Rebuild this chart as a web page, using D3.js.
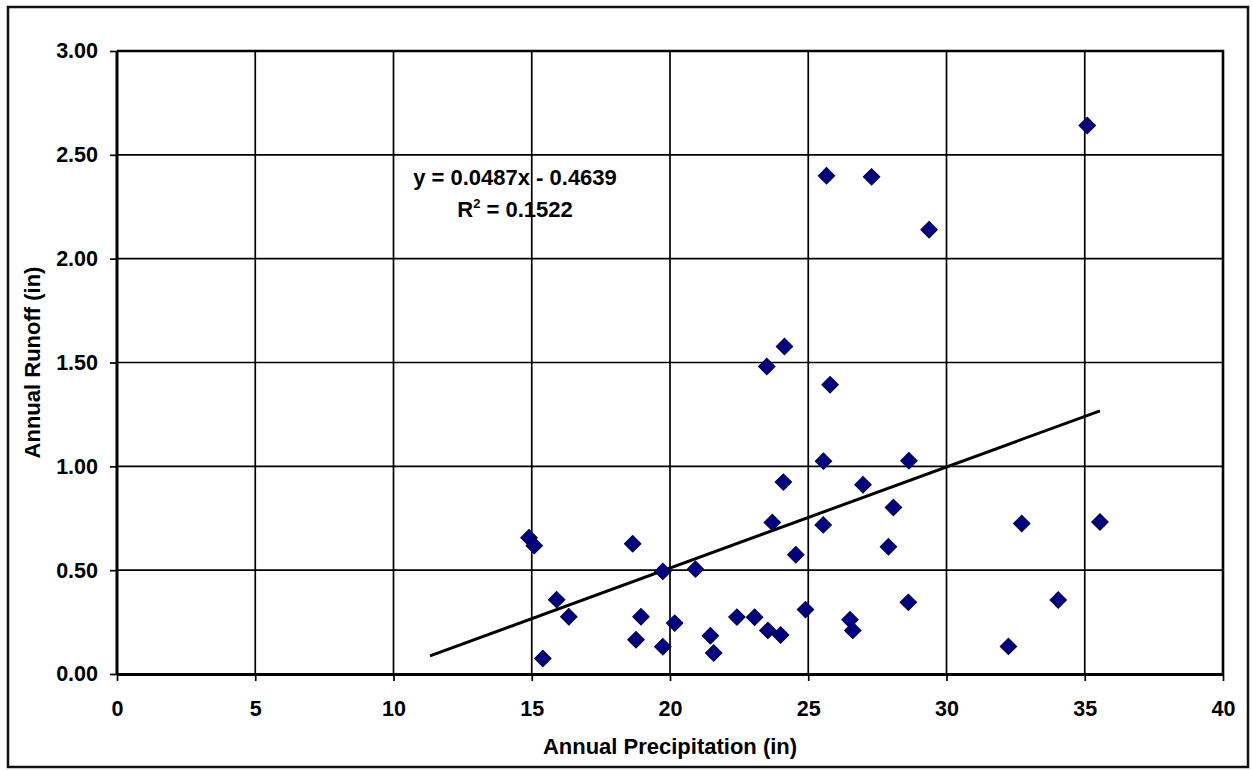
<!DOCTYPE html>
<html>
<head>
<meta charset="utf-8">
<script src="https://cdn.jsdelivr.net/npm/d3@7"></script>
<style>
  html, body { margin: 0; padding: 0; background: #ffffff; }
  svg { display: block; }
  text { font-family: "Liberation Sans", Arial, sans-serif; font-weight: bold; fill: #000; }
</style>
</head>
<body>
<svg id="chart" width="1252" height="770"></svg>
<script>
// ---- data ----
const precipitation = [14.90, 15.09, 15.40, 15.90, 16.34, 18.65, 18.77, 18.95, 19.74, 19.74,
  20.17, 20.92, 21.46, 21.58, 22.42, 23.06, 23.50, 23.54, 23.70, 24.00,
  24.10, 24.14, 24.55, 24.90, 25.55, 25.54, 25.66, 25.79, 26.51, 26.61,
  26.98, 27.29, 27.90, 28.08, 28.62, 28.64, 29.37, 32.24, 32.72, 34.04,
  35.09, 35.55];
const runoff = [0.656, 0.618, 0.075, 0.358, 0.276, 0.627, 0.165, 0.276, 0.494, 0.131,
  0.245, 0.505, 0.184, 0.101, 0.274, 0.273, 1.481, 0.210, 0.730, 0.188,
  0.924, 1.577, 0.574, 0.310, 1.025, 0.718, 2.399, 1.393, 0.261, 0.210,
  0.911, 2.394, 0.613, 0.802, 0.345, 1.027, 2.139, 0.133, 0.725, 0.356,
  2.641, 0.732];
const xTicks = [0, 5, 10, 15, 20, 25, 30, 35, 40];
const yTicks = [0, 0.5, 1.0, 1.5, 2.0, 2.5, 3.0];
const trendSlope = 0.0487;
const trendIntercept = -0.4639;
const trendRange = [11.32, 35.55];
const equationText = "y = 0.0487x - 0.4639";
const r2Value = "0.1522";
const xTitle = "Annual Precipitation (in)";
const yTitle = "Annual Runoff (in)";

// ---- layout ----
const svg = d3.select("#chart");
const plot = { left: 117, right: 1223, top: 51, bottom: 674 };

const x = d3.scaleLinear().domain([0, 40]).range([plot.left, plot.right]);
const y = d3.scaleLinear().domain([0, 3]).range([plot.bottom, plot.top]);

// outer frame
svg.append("rect").attr("x", 8).attr("y", 7).attr("width", 1240).attr("height", 760)
  .attr("fill", "#fff").attr("stroke", "#111").attr("stroke-width", 2.5);

// gridlines
const grid = svg.append("g");
grid.selectAll("line.v").data(xTicks.filter(d => d > 0 && d < 40)).join("line")
  .attr("x1", d => x(d)).attr("x2", d => x(d))
  .attr("y1", plot.top).attr("y2", plot.bottom)
  .attr("stroke", "#000").attr("stroke-width", 1.7);
grid.selectAll("line.h").data(yTicks.filter(d => d > 0 && d < 3)).join("line")
  .attr("x1", plot.left).attr("x2", plot.right)
  .attr("y1", d => y(d)).attr("y2", d => y(d))
  .attr("stroke", "#000").attr("stroke-width", 1.7);

// plot border top/right
svg.append("path")
  .attr("d", `M${plot.left},${plot.top}H${plot.right}V${plot.bottom}`)
  .attr("fill", "none").attr("stroke", "#000").attr("stroke-width", 2.6);

// axes
const xAxis = svg.append("g").attr("transform", `translate(0,${plot.bottom})`)
  .call(d3.axisBottom(x).tickValues(xTicks).tickFormat(d3.format("d")).tickSize(7).tickPadding(20));
const yAxis = svg.append("g").attr("transform", `translate(${plot.left},0)`)
  .call(d3.axisLeft(y).tickValues(yTicks).tickFormat(d3.format(".2f")).tickSize(7).tickPadding(12));
[xAxis, yAxis].forEach(g => {
  g.select(".domain").attr("stroke", "#000").attr("stroke-width", 3);
  g.selectAll(".tick line").attr("stroke", "#000").attr("stroke-width", 1.7);
  g.selectAll(".tick text").style("font-family", '"Liberation Sans", Arial, sans-serif')
    .style("font-weight", "bold").style("font-size", "21.5px").attr("fill", "#000");
});
xAxis.select(".domain").attr("d", `M${plot.left},0.5H${plot.right}`);
yAxis.select(".domain").attr("d", `M0,${plot.top}V${plot.bottom}`);

// trendline
svg.append("line")
  .attr("x1", x(trendRange[0])).attr("y1", y(trendSlope * trendRange[0] + trendIntercept))
  .attr("x2", x(trendRange[1])).attr("y2", y(trendSlope * trendRange[1] + trendIntercept))
  .attr("stroke", "#000").attr("stroke-width", 3);

// points
const pts = precipitation.map((p, i) => ({ p, r: runoff[i] }));
const diamond = d3.symbol().type(d3.symbolSquare).size(136);
svg.append("g").selectAll("path").data(pts).join("path")
  .attr("d", diamond)
  .attr("transform", d => `translate(${x(d.p)},${y(d.r)}) rotate(45)`)
  .attr("fill", "#000080").attr("stroke", "#00004a").attr("stroke-width", 1);

// equation
svg.append("text").attr("x", 515).attr("y", 185).attr("text-anchor", "middle")
  .style("font-size", "22px").text(equationText);
const r2 = svg.append("text").attr("x", 515).attr("y", 217).attr("text-anchor", "middle")
  .style("font-size", "22px");
r2.append("tspan").text("R");
r2.append("tspan").attr("dy", -9).style("font-size", "13px").text("2");
r2.append("tspan").attr("dy", 9).text(" = " + r2Value);

// axis titles
svg.append("text").attr("x", (plot.left + plot.right) / 2).attr("y", 754)
  .attr("text-anchor", "middle").style("font-size", "22px").text(xTitle);
svg.append("text").attr("transform", `translate(40,${(plot.top + plot.bottom) / 2}) rotate(-90)`)
  .attr("text-anchor", "middle").style("font-size", "22px").text(yTitle);
</script>
</body>
</html>
